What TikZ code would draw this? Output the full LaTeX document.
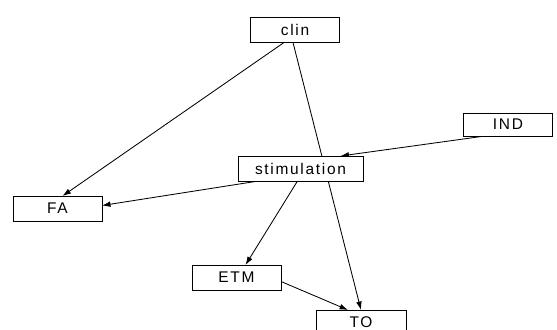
\documentclass[tikz,border=0pt]{standalone}
\usepackage{fontspec}
\newfontfamily\boxfont{Liberation Sans}[LetterSpace=11]
\usetikzlibrary{arrows.meta,calc,backgrounds}

\begin{document}
\begin{tikzpicture}[x=0.025cm,y=-0.025cm,
    box/.style={draw,line width=0.6pt,fill=white,inner sep=0pt,outer sep=0pt,
      minimum width=2.225cm,minimum height=0.625cm,
      font=\boxfont\fontsize{11}{13}\selectfont},
    link/.style={line width=0.6pt,-{Latex[length=6pt,width=4pt]}}]
    \useasboundingbox (0,0) rectangle (557,329);
    \clip (0,0) rectangle (557,329);

    % nodes
    \node[box] (clin) at (295,30) {clin};
    \node[box,minimum height=0.575cm] (IND) at (508,124.5) {IND};
    \node[box,minimum width=3.125cm] (stim) at (300.5,168.5) {stimulation};
    \node[box] (FA) at (57.5,208.5) {FA};
    \node[box] (ETM) at (236.5,277.5) {ETM};
    \node[box,minimum width=2.25cm,minimum height=0.6cm] (TO) at (361,322) {TO};

    % arrows (behind the boxes)
    \begin{scope}[on background layer]
    \draw[link] ($(clin.south)+(-11,0)$) -- ($(FA.north)+(5,0)$);
    \draw[link] ($(clin.south)+(-2,0)$) -- (TO.north);
    \draw[link] ($(IND.south)+(-23,0)$) -- ($(stim.north)+(40,0)$);
    \draw[link] ($(stim.south)+(-42,0)$) -- ($(FA.east)+(0,-3)$);
    \draw[link] ($(stim.south)+(-3,0)$) -- ($(ETM.north)+(9,0)$);
    \draw[link] ($(ETM.east)+(0,4)$) -- ($(TO.north)+(-13,0)$);
    \end{scope}
\end{tikzpicture}
\end{document}
